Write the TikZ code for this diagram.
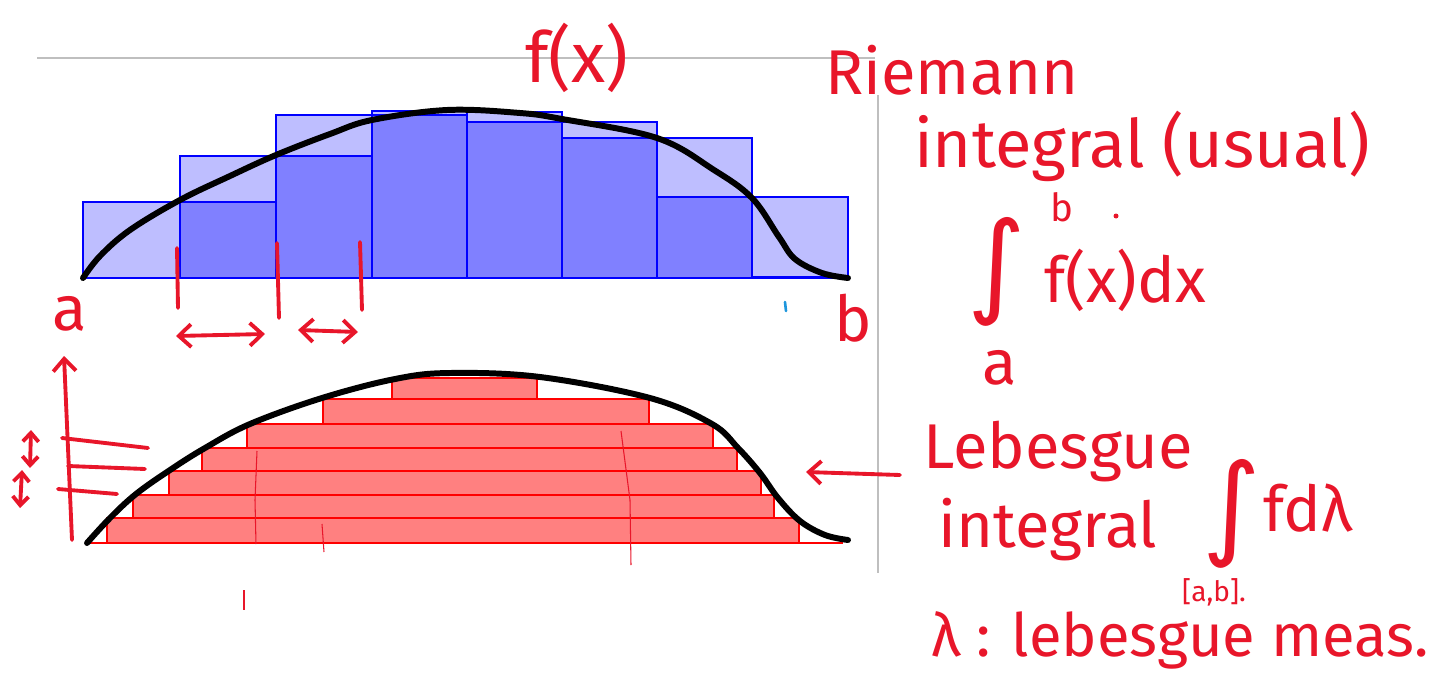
\documentclass[tikz,border=0pt]{standalone}
\usepackage{fontspec}
\setmainfont{Fira Sans}
\newfontfamily\intfont{DejaVu Sans}
\usepackage{tikz}
\usetikzlibrary{arrows.meta,positioning}
\definecolor{ink}{RGB}{232,22,42}
\definecolor{hiblue}{RGB}{190,190,255}
\definecolor{loblue}{RGB}{128,128,255}
\definecolor{slabred}{RGB}{255,128,128}
\definecolor{tickblue}{RGB}{30,150,220}

\begin{document}
\begin{tikzpicture}[
    x=0.02cm, y=-0.02cm,
    >={Straight Barb[length=7pt,width=13pt]},
    curve/.style={line width=3.4pt, black, line join=round, line cap=round},
    upper/.style={draw=blue, line width=1pt, fill=hiblue},
    lower/.style={draw=blue, line width=1pt, fill=loblue},
    slab/.style={draw=red, line width=1pt, fill=slabred},
    pen/.style={ink, line width=2.2pt, line cap=round},
    thinpen/.style={ink, line width=0.6pt},
    hand/.style={ink, inner sep=0pt, font=\fontsize{36}{40}\selectfont},
    bigint/.style={ink, inner sep=0pt, font=\intfont\fontsize{64}{64}\selectfont},
    guide/.style={black!25, line width=0.6pt}
  ]
  \useasboundingbox (0,0) rectangle (1438,683);

  % page guides
  \draw[guide] (37,58) -- (875,58);
  \draw[guide] (878,95) -- (878,573);

  % Riemann: upper and lower sums
  \foreach \xl/\xr/\hi/\lo in {83/180/202/278, 180/276/156/202,
      276/372/115/156, 372/467/111/115, 467/562/112/122,
      562/657/122/138, 657/752/138/197, 752/848/197/277}
    \draw[upper] (\xl,278) rectangle (\xr,\hi);
  \foreach \xl/\xr/\hi/\lo in {83/180/202/278, 180/276/156/202,
      276/372/115/156, 372/467/111/115, 467/562/112/122,
      562/657/122/138, 657/752/138/197, 752/848/197/277}
    \draw[lower] (\xl,278) rectangle (\xr,\lo);
  \draw[curve] plot[smooth, tension=0.6] coordinates {(83,278) (100,256)
      (130,230) (180,200) (230,176) (276,155) (330,134) (372,120)
      (447,110) (520,113) (562,119) (657,138) (714,170) (752,198)
      (779,237) (795,259) (822,273) (848,278)};

  % Lebesgue: horizontal slabs
  \foreach \xl/\xr/\yt/\yb in {107/799/518/543, 133/774/495/518,
      169/761/471/495, 202/737/448/471, 247/713/424/448,
      323/649/399/424, 392/537/378/399}
    \draw[slab] (\xl,\yb) rectangle (\xr,\yt);
  \draw[red, line width=1pt] (90,543) -- (843,543);
  \draw[curve] plot[smooth, tension=0.6] coordinates {(87,543) (110,518)
      (136,494) (170,470) (205,448) (250,424) (322,398) (395,379)
      (450,373) (540,377) (650,398) (712,424) (738,448) (760,473)
      (778,498) (800,521) (825,535) (848,540)};

  % labels
  \node[hand, font=\fontsize{40}{44}\selectfont] (fx) at (577,58) {f(x)};
  \node[hand] (ta) at (70,314) {a};
  \node[hand] (tb) at (853,318) {b};
  \node[hand] (riemann) at (952,70) {Riemann};
  \node[hand, font=\fontsize{38}{42}\selectfont] (usual) at (1142,146)
    {integral (usual)};
  \node[bigint] (rint) at (997,272) {∫};
  \node[hand, font=\fontsize{22}{24}\selectfont] (rb) at (1062,207) {b};
  \node[hand] (ra) at (1000,368) {a};
  \node[hand] (rfx) at (1125,280) {f(x)dx};
  \node[hand] (leb) at (1058,452) {Lebesgue};
  \node[hand] (lint) at (1048,530) {integral};
  \node[bigint] (lsum) at (1232,514) {∫};
  \node[hand] (fdl) at (1308,508) {fdλ};
  \node[hand, font=\fontsize{16}{18}\selectfont] (ab) at (1214,592) {[a,b].};
  \node[hand, font=\fontsize{34}{38}\selectfont] (meas) at (1180,640)
    {λ : lebesgue meas.};

  % partition ticks and widths
  \coordinate (t1a) at (177,248); \coordinate (t1b) at (178,308);
  \coordinate (t2a) at (277,243); \coordinate (t2b) at (279,318);
  \coordinate (t3a) at (360,242); \coordinate (t3b) at (362,310);
  \draw[pen] (t1a) -- (t1b);
  \draw[pen] (t2a) -- (t2b);
  \draw[pen] (t3a) -- (t3b);
  \coordinate (w1l) at (176,336); \coordinate (w1r) at (265,334);
  \coordinate (w2l) at (298,330); \coordinate (w2r) at (358,332);
  \draw[pen, <->] (w1l) -- (w1r);
  \draw[pen, <->] (w2l) -- (w2r);
  \coordinate (dot1) at (785,302); \coordinate (dot2) at (786,311);
  \draw[tickblue, line width=1.5pt, line cap=round] (dot1) -- (dot2);
  \coordinate (rdot) at (1116,216);
  \fill[ink] (rdot) circle (2.5);

  % value axis and level lines
  \coordinate (ax0) at (72,540); \coordinate (ax1) at (64,356);
  \draw[pen, ->] (ax0) -- (ax1);
  \coordinate (l1a) at (62,438); \coordinate (l1b) at (148,448);
  \coordinate (l2a) at (68,466); \coordinate (l2b) at (145,469);
  \coordinate (l3a) at (58,489); \coordinate (l3b) at (117,494);
  \draw[pen] (l1a) -- (l1b);
  \draw[pen] (l2a) -- (l2b);
  \draw[pen] (l3a) -- (l3b);
  \coordinate (h1a) at (31,430); \coordinate (h1b) at (30,468);
  \coordinate (h2a) at (22,470); \coordinate (h2b) at (20,508);
  \draw[pen, <->, >={Straight Barb[length=5pt,width=9pt]}] (h1a) -- (h1b);
  \draw[pen, <->, >={Straight Barb[length=5pt,width=9pt]}] (h2a) -- (h2b);

  % faint strokes over the slabs
  \draw[thinpen] (257,451) -- (255,500) -- (256,544);
  \draw[thinpen] (322,524) -- (324,552);
  \draw[thinpen] (621,431) -- (630,500) -- (631,565);
  \draw[thinpen, line width=1pt] (244,590) -- (244,610);

  % pointer to the slabs
  \coordinate (tail) at (900,475);
  \coordinate (hit) at (806,472);
  \draw[pen, ->] (tail) -- (hit);
\end{tikzpicture}
\end{document}
